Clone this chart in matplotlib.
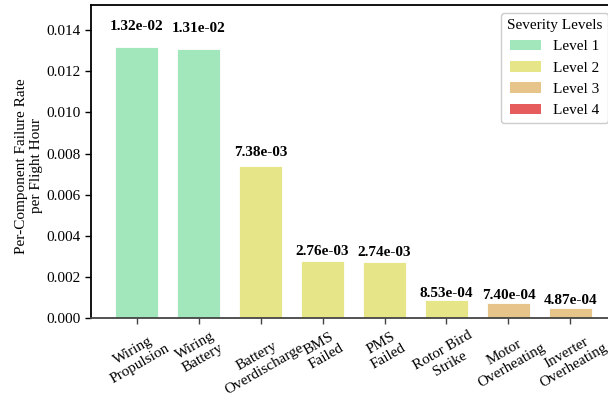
import matplotlib
matplotlib.use("Agg")
import matplotlib.pyplot as plt
from matplotlib.patches import Patch

plt.rcParams["font.family"] = ["Liberation Serif", "DejaVu Serif"]

categories = [
    "Wiring\nPropulsion", "Wiring\nBattery", "Battery\nOverdischarge",
    "BMS\nFailed", "PMS\nFailed", "Rotor Bird\nStrike",
    "Motor\nOverheating", "Inverter\nOverheating",
]
rates = [1.32e-02, 1.31e-02, 7.38e-03, 2.76e-03, 2.74e-03, 8.53e-04, 7.40e-04, 4.87e-04]
severity = [1, 1, 2, 2, 2, 2, 3, 3]

level_names = ["Level 1", "Level 2", "Level 3", "Level 4"]
level_colors = {1: "#a2e6bb", 2: "#e6e689", 3: "#e6c48a", 4: "#e65c5c"}

fig = plt.figure(figsize=(6.08, 3.99), dpi=100)
ax = fig.add_axes([0.1497, 0.203, 0.8635, 0.784])

x = range(len(categories))
bars = ax.bar(x, rates, width=0.7,
              color=[level_colors[s] for s in severity],
              edgecolor="white", linewidth=0.6)

for xi, v in zip(x, rates):
    ax.text(xi, v * 1.05, f"{v:.2e}", ha="center", va="bottom",
            fontsize=11, fontweight="bold")

ax.set_ylim(0, max(rates) * 1.153)
ax.set_xticks(list(x))
ax.set_xticklabels(categories, rotation=30, ha="center", fontsize=11)
ax.tick_params(axis="y", labelsize=11, length=4, width=1, colors="black")
ax.tick_params(axis="x", length=4, width=1, color="#444444")
ax.set_ylabel("Per-Component Failure Rate\nper Flight Hour", fontsize=11)
ax.yaxis.set_label_coords(-0.092, 0.486)

ax.spines["right"].set_visible(False)
ax.spines["left"].set_color("black")
ax.spines["left"].set_linewidth(1.3)
ax.spines["top"].set_linewidth(1.3)
ax.spines["bottom"].set_color("#444444")
ax.spines["bottom"].set_linewidth(1.3)

handles = [Patch(facecolor=level_colors[i + 1], label=name)
           for i, name in enumerate(level_names)]
ax.legend(handles=handles, title="Severity Levels", loc="upper right",
          fontsize=11, title_fontsize=11, framealpha=1, edgecolor="#cccccc",
          fancybox=True)

fig.savefig("out.png", dpi=100)
